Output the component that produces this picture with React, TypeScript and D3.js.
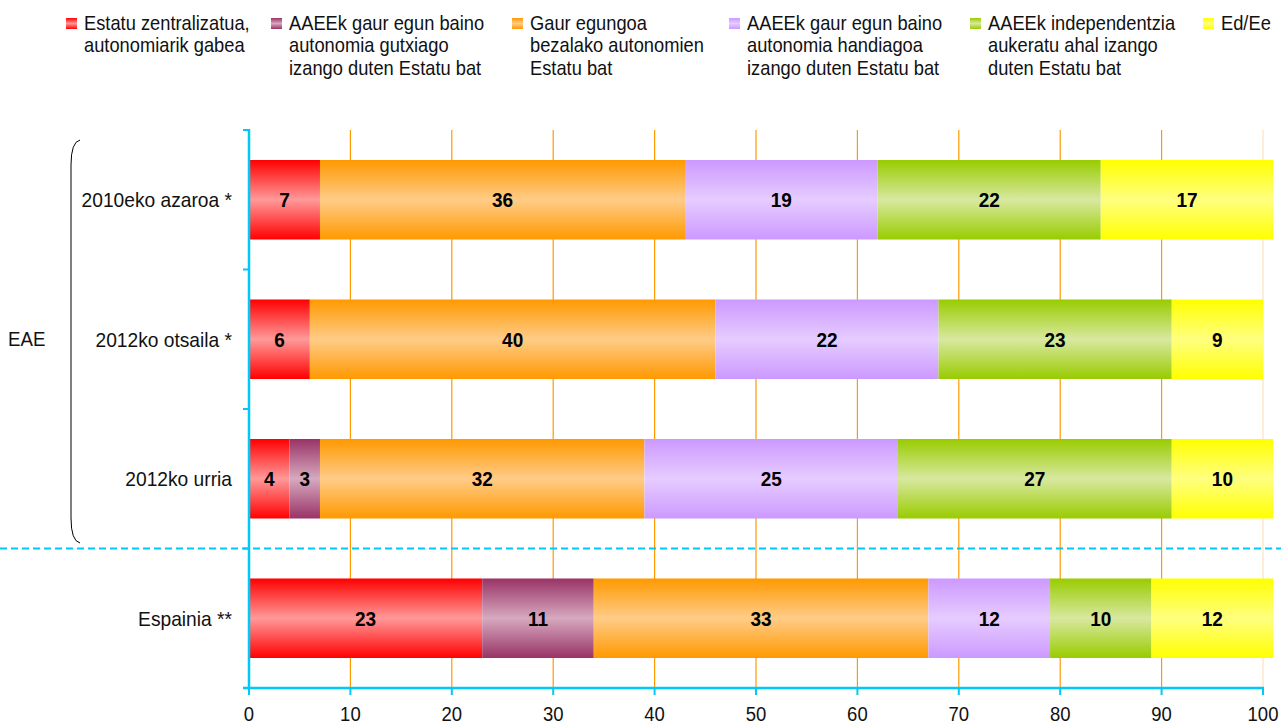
import React from "react";
import * as d3 from "d3";

const categories = ["2010eko azaroa *", "2012ko otsaila *", "2012ko urria", "Espainia **"];
const seriesNames = [
  "Estatu zentralizatua,\nautonomiarik gabea",
  "AAEEk gaur egun baino\nautonomia gutxiago\nizango duten Estatu bat",
  "Gaur egungoa\nbezalako autonomien\nEstatu bat",
  "AAEEk gaur egun baino\nautonomia handiagoa\nizango duten Estatu bat",
  "AAEEk independentzia\naukeratu ahal izango\nduten Estatu bat",
  "Ed/Ee",
];
const s1 = [7, 6, 4, 23];
const s2 = [0, 0, 3, 11];
const s3 = [36, 40, 32, 33];
const s4 = [19, 22, 25, 12];
const s5 = [22, 23, 27, 10];
const s6 = [17, 9, 10, 12];
const seriesValues = [s1, s2, s3, s4, s5, s6];
const xTicks = [0, 10, 20, 30, 40, 50, 60, 70, 80, 90, 100];
const groupLabel = "EAE";

const edgeColors = ["#ff0000", "#993366", "#ff9900", "#cc99ff", "#99cc00", "#ffff00"];
const midColors = ["#ff9999", "#d6a9bf", "#ffcc88", "#e6ccff", "#d8e8a0", "#ffff80"];
const legendX = [66, 271, 512, 729, 970, 1203];

const SY = 1.08;

function T(props: any) {
  const { x, y, children, ...rest } = props;
  return (
    <text transform={`translate(${x},${y}) scale(1,${SY})`} {...rest}>
      {children}
    </text>
  );
}

export default function App() {
  const W = 1281, H = 724;
  const x = d3.scaleLinear().domain([0, 100]).range([249, 1263]);
  const y = d3.scaleBand().domain(categories).range([130, 688]).paddingInner(0.43).paddingOuter(0.215);
  const font = "'Liberation Sans', Arial, sans-serif";
  const axisColor = "#00c8f8";

  const stacks = categories.map((c, i) => {
    let acc = 0;
    return seriesValues.map((s, k) => {
      const v = s[i];
      const seg = { k, v, x0: acc, x1: acc + v };
      acc += v;
      return seg;
    });
  });

  const bandTicks = [130, ...categories.map((c) => (y(c)! + y.bandwidth() + (y.step() - y.bandwidth()) / 2))];

  return (
    <svg width={W} height={H} style={{ position: "absolute", left: 0, top: 0, fontFamily: font }}>
      <defs>
        {edgeColors.map((c, k) => (
          <linearGradient key={k} id={`g${k}`} x1="0" y1="0" x2="0" y2="1">
            <stop offset="0" stopColor={c} />
            <stop offset="0.5" stopColor={midColors[k]} />
            <stop offset="1" stopColor={c} />
          </linearGradient>
        ))}
      </defs>
      <rect width={W} height={H} fill="#fff" />
      {/* legend */}
      {seriesNames.map((n, k) => (
        <g key={k}>
          <rect x={legendX[k]} y={18} width={11} height={11} fill={`url(#g${k})`} />
          {n.split("\n").map((line, j) => (
            <T key={j} x={legendX[k] + 18} y={29.5 + j * 22.5} fontSize={18.3} fill="#111">{line}</T>
          ))}
        </g>
      ))}
      {/* gridlines */}
      {xTicks.slice(1).map((t) => (
        <line key={t} x1={x(t)} x2={x(t)} y1={130} y2={688} stroke={t === 100 ? "#fde3c0" : "#ff9900"} strokeWidth={1.2} />
      ))}
      {/* bars */}
      {stacks.map((segs, i) => (
        <g key={i}>
          {segs.filter((s) => s.v > 0).map((s) => (
            <g key={s.k}>
              <rect x={x(s.x0)} y={y(categories[i])} width={x(s.x1) - x(s.x0)} height={y.bandwidth()} fill={`url(#g${s.k})`} />
              <T x={(x(s.x0) + x(s.x1)) / 2} y={y(categories[i])! + y.bandwidth() / 2 + 7.5} textAnchor="middle" fontSize={19} fontWeight="bold" fill="#000">{s.v}</T>
            </g>
          ))}
        </g>
      ))}
      {/* dashed separator */}
      <line x1={0} x2={W} y1={bandTicks[3]} y2={bandTicks[3]} stroke={axisColor} strokeWidth={2} strokeDasharray="7,4" />
      {/* y axis */}
      <line x1={249} x2={249} y1={129} y2={689} stroke={axisColor} strokeWidth={2.5} />
      {bandTicks.map((t, j) => (
        <line key={j} x1={243} x2={249} y1={t} y2={t} stroke={axisColor} strokeWidth={2} />
      ))}
      {/* x axis */}
      <line x1={243} x2={1264} y1={688} y2={688} stroke={axisColor} strokeWidth={2.5} />
      {xTicks.map((t) => (
        <g key={t}>
          <line x1={x(t)} x2={x(t)} y1={688} y2={695} stroke={axisColor} strokeWidth={2} />
          <T x={x(t)} y={721} textAnchor="middle" fontSize={18.5} fill="#111">{t}</T>
        </g>
      ))}
      {/* category labels */}
      {categories.map((c) => (
        <T key={c} x={232} y={y(c)! + y.bandwidth() / 2 + 7.5} textAnchor="end" fontSize={19.2} fill="#111">{c}</T>
      ))}
      {/* bracket */}
      <path d="M80,140 Q71,142 71,165 L71,518 Q71,541 80,543" fill="none" stroke="#000" strokeWidth={1} />
      <T x={8} y={346} fontSize={18.7} fill="#111">{groupLabel}</T>
    </svg>
  );
}
